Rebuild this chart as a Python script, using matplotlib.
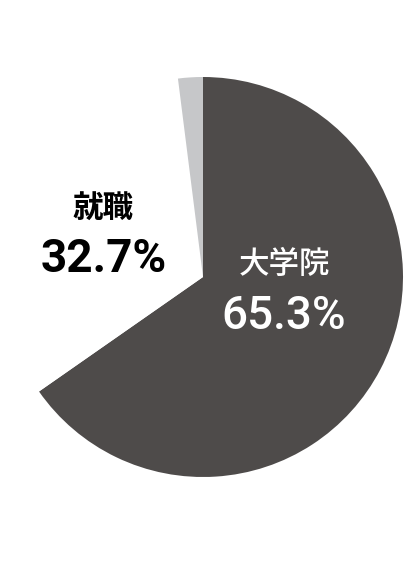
import matplotlib
matplotlib.use('Agg')
import matplotlib.pyplot as plt

# Shares of graduates by path
labels = ['大学院', '就職', 'その他']
shares = [65.3, 32.7, 2.0]
colors = ['#4e4b4a', '#ffffff', '#c6c7c9']
text_colors = ['white', 'black']

plt.rcParams['font.family'] = ['Noto Sans CJK JP', 'DejaVu Sans']

fig = plt.figure(figsize=(4.04, 5.64), dpi=100)
# pie centre at (203, 277) px from top-left, radius 200 px
cx, cy, r = 203, 277, 200
ax = fig.add_axes([(cx - r) / 404, (564 - cy - r) / 564, 2 * r / 404, 2 * r / 564])
ax.pie(shares, colors=colors, startangle=90, counterclock=False, radius=1,
       wedgeprops=dict(linewidth=0))
ax.set_xlim(-1, 1)
ax.set_ylim(-1, 1)
ax.set_aspect('equal')
ax.axis('off')

# label anchors in data units (radius = 1): (x, name centre y, number baseline y)
anchors = [(0.405, 0.06, -0.26), (-0.498, 0.3475, 0.027)]
name_weights = ['medium', 'bold']
num_weights = ['medium', 'bold']
for i in (0, 1):
    x, y_name, y_num = anchors[i]
    ax.text(x, y_name, labels[i], ha='center', va='center', fontsize=22,
            color=text_colors[i], fontweight=name_weights[i])
    ax.text(x, y_num, f'{shares[i]:.1f}%', ha='center', va='baseline', fontsize=33,
            color=text_colors[i], fontweight=num_weights[i],
            family=['Roboto', 'DejaVu Sans'])

fig.savefig('out.png', dpi=100, facecolor='white')
